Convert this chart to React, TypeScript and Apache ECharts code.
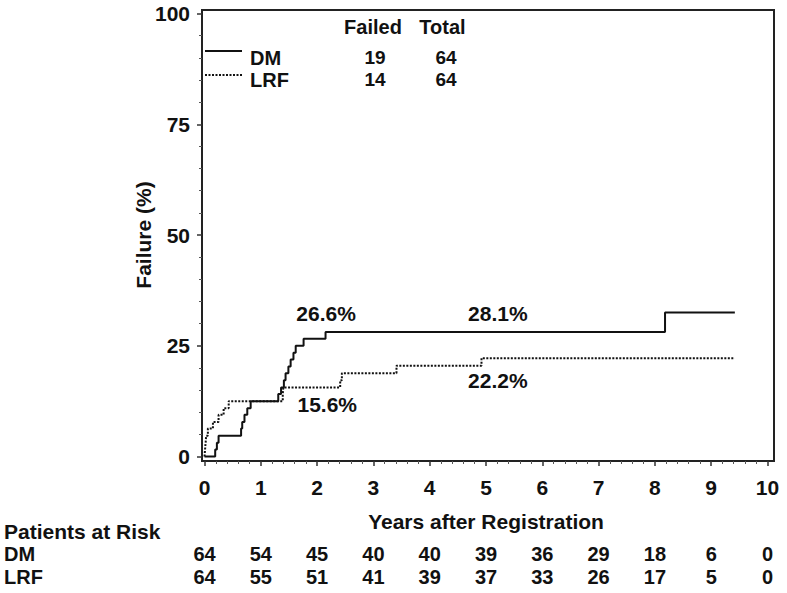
import React, { useEffect, useRef } from "react";
import * as echarts from "echarts";

// ---------- data ----------
const yearTicks = [0, 1, 2, 3, 4, 5, 6, 7, 8, 9, 10];
const dmAtRisk = [64, 54, 45, 40, 40, 39, 36, 29, 18, 6, 0];
const lrfAtRisk = [64, 55, 51, 41, 39, 37, 33, 26, 17, 5, 0];

// cumulative failure (%) step points: [years, percent]
const dmCurve: [number, number][] = [
  [0, 0], [0.19, 1.6], [0.22, 3.1], [0.25, 4.7], [0.65, 6.3], [0.67, 7.8],
  [0.71, 9.4], [0.76, 10.9], [0.82, 12.5], [1.31, 14.1], [1.36, 15.6],
  [1.41, 17.2], [1.44, 18.8], [1.49, 20.3], [1.53, 21.9], [1.58, 23.4],
  [1.62, 25.0], [1.76, 26.6], [2.15, 28.1], [8.18, 32.5], [9.42, 32.5],
];
const lrfCurve: [number, number][] = [
  [0, 0], [0.01, 1.6], [0.02, 3.1], [0.03, 4.7], [0.06, 6.3], [0.15, 7.8],
  [0.25, 9.4], [0.34, 10.9], [0.43, 12.5], [1.39, 14.1], [1.4, 15.6],
  [2.41, 17.2], [2.44, 18.8], [3.41, 20.5], [4.92, 22.2], [9.42, 22.2],
];

const annotationTexts = ["26.6%", "28.1%", "15.6%", "22.2%"];
const annotationYears = [2.16, 5.21, 2.18, 5.21];
const annotationPct = [32.3, 32.3, 11.7, 17.2];

const legendNames = ["DM", "LRF"];
const legendFailed = [19, 14];
const legendTotal = [64, 64];
const legendHeaders = ["Failed", "Total"];

const xTitle = "Years after Registration";
const yTitle = "Failure (%)";
const riskTitle = "Patients at Risk";

// ---------- styles ----------
const FONT = '"Liberation Sans", Arial, Helvetica, sans-serif';
const INK = "#111";
const txt = { fontFamily: FONT, fontSize: 21, fontWeight: "bold" as const, color: INK };
const RISK_SIZE = 20;
const LEGEND_SIZE = 19;

function gText(text: string, x: number, y: number, align: string = "center", size = 21) {
  return {
    type: "text",
    x,
    y,
    style: {
      text,
      font: `bold ${size}px ${FONT}`,
      fill: INK,
      align,
      verticalAlign: "middle",
    },
  };
}

function buildOption() {
  const legendRowsText = [57.5, 79.5];
  const legendRowsLine = [51, 75];
  const graphics: any[] = [
    {
      type: "rect",
      shape: { x: 202, y: 10, width: 572, height: 451 },
      style: { fill: "none", stroke: "#222", lineWidth: 2 },
      silent: true,
    },
    gText(legendHeaders[0], 373, 27, "center", 20),
    gText(legendHeaders[1], 442.5, 27, "center", 20),
    gText(riskTitle, 4, 531, "left", 21),
    gText(legendNames[0], 4, 554, "left", RISK_SIZE),
    gText(legendNames[1], 4, 576.5, "left", RISK_SIZE),
  ];
  legendNames.forEach((n, i) => {
    graphics.push({
      type: "line",
      shape: { x1: 205, y1: legendRowsLine[i], x2: 242, y2: legendRowsLine[i] },
      style: {
        stroke: INK,
        lineWidth: 2,
        lineDash: i === 0 ? null : [2, 1.5],
      },
    });
    graphics.push(gText(n, 250, legendRowsText[i], "left", LEGEND_SIZE + 1));
    graphics.push(gText(String(legendFailed[i]), 375, legendRowsText[i] - 0.5, "center", LEGEND_SIZE));
    graphics.push(gText(String(legendTotal[i]), 446, legendRowsText[i] - 0.5, "center", LEGEND_SIZE));
  });

  const hidden = { show: false };
  const riskAxis = (values: number[], offset: number) => ({
    type: "value",
    gridIndex: 0,
    position: "bottom",
    min: 0,
    max: 10,
    interval: 1,
    offset,
    axisLine: { show: false, onZero: false },
    axisTick: hidden,
    minorTick: hidden,
    splitLine: hidden,
    axisLabel: {
      ...txt,
      fontSize: RISK_SIZE,
      margin: 0,
      verticalAlign: "middle",
      showMinLabel: true,
      showMaxLabel: true,
      formatter: (v: number) => {
        const idx = yearTicks.indexOf(Math.round(v));
        return idx >= 0 ? String(values[idx]) : "";
      },
    },
  });

  return {
    animation: false,
    backgroundColor: "#ffffff",
    grid: { left: 204.5, right: 19.5, top: 13.5, bottom: 136.5, containLabel: false },
    xAxis: [
      {
        type: "value",
        position: "bottom",
        min: 0,
        max: 10,
        interval: 1,
        offset: 4.5,
        axisLine: { show: false, onZero: false },
        axisTick: { show: true, length: 5, lineStyle: { color: "#333", width: 1.5 } },
        minorTick: { show: true, splitNumber: 5, length: 3, lineStyle: { color: "#555", width: 1 } },
        splitLine: hidden,
        minorSplitLine: hidden,
        axisLabel: {
          ...txt,
          margin: 26.5,
          verticalAlign: "middle",
          showMinLabel: true,
          showMaxLabel: true,
        },
        name: xTitle,
        nameLocation: "middle",
        nameGap: 60,
        nameMoveOverlap: false,
        nameTextStyle: { ...txt, verticalAlign: "middle" },
      },
      riskAxis(dmAtRisk, 97.5),
      riskAxis(lrfAtRisk, 120),
    ],
    yAxis: {
      type: "value",
      min: 0,
      max: 100,
      interval: 25,
      offset: 2.5,
      axisLine: { show: false, onZero: false },
      axisTick: { show: true, length: 5, lineStyle: { color: "#333", width: 1.5 } },
      minorTick: { show: true, splitNumber: 5, length: 3, lineStyle: { color: "#555", width: 1 } },
      splitLine: hidden,
      minorSplitLine: hidden,
      axisLabel: { ...txt, margin: 12, padding: [8, 0, 0, 0] },
      name: yTitle,
      nameLocation: "middle",
      nameGap: 59,
      nameRotate: 90,
      nameMoveOverlap: false,
      nameTextStyle: { ...txt, verticalAlign: "middle" },
    },
    graphic: graphics,
    series: [
      {
        name: legendNames[0],
        type: "line",
        step: "end",
        data: dmCurve,
        showSymbol: false,
        clip: false,
        lineStyle: { color: INK, width: 2 },
        z: 3,
      },
      {
        name: legendNames[1],
        type: "line",
        step: "end",
        data: lrfCurve,
        showSymbol: false,
        clip: false,
        lineStyle: { color: INK, width: 2, type: [2, 1.5] },
        z: 2,
      },
      {
        name: "annotations",
        type: "scatter",
        symbolSize: 0,
        clip: false,
        itemStyle: { color: INK, opacity: 1 },
        data: annotationTexts.map((t, i) => ({
          name: t,
          value: [annotationYears[i], annotationPct[i]],
        })),
        label: {
          show: true,
          position: "inside",
          formatter: "{b}",
          ...txt,
          opacity: 1,
          textBorderWidth: 0,
        },
        emphasis: { disabled: true },
        silent: true,
      },
    ],
  };
}

export default function App() {
  const ref = useRef<HTMLDivElement>(null);
  useEffect(() => {
    if (!ref.current) return;
    const chart = echarts.init(ref.current, undefined, { renderer: "svg" });
    chart.setOption(buildOption() as any);
    return () => chart.dispose();
  }, []);
  return (
    <div
      ref={ref}
      style={{ position: "absolute", left: 0, top: 0, width: 787, height: 593, background: "#fff" }}
    />
  );
}
